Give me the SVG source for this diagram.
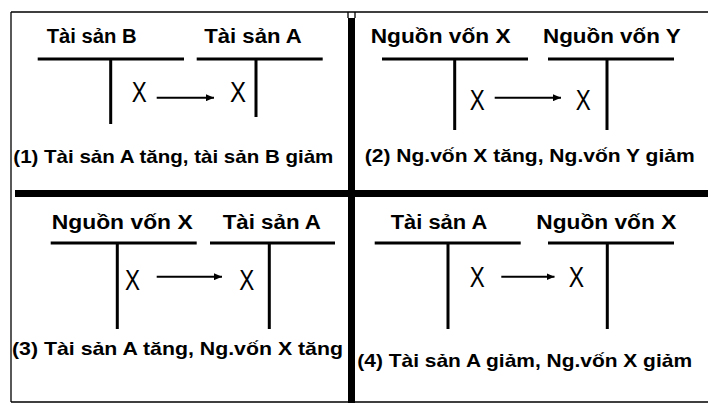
<svg xmlns="http://www.w3.org/2000/svg" width="708" height="403" viewBox="0 0 708 403">
<defs>
<style>
.frame{stroke:#000;stroke-width:1.3;fill:none}
.bar{fill:#000}
.t{stroke:#000;stroke-width:3;fill:none}
.hd{font-family:"Liberation Sans",Arial,sans-serif;font-weight:bold;font-size:19.5px;fill:#000}
.cap{font-family:"Liberation Sans",Arial,sans-serif;font-weight:bold;font-size:19px;fill:#000}
.x{font-family:"Liberation Sans",Arial,sans-serif;font-weight:normal;font-size:30px;fill:#000}
.arr{stroke:#000;stroke-width:2;fill:none;marker-end:url(#ah)}
</style>
<marker id="ah" viewBox="0 0 8 7" refX="8" refY="3.5" markerWidth="8" markerHeight="7" markerUnits="userSpaceOnUse" orient="auto">
<path d="M0,0 L8,3.5 L0,7 Z" fill="#000"/>
</marker>
</defs>
<rect width="708" height="403" fill="#fff"/>
<g id="frame">
<path class="frame" d="M11,12 H708 M11,12 V402 M11,402 H708 M348,12 V18 M355,12 V18"/>
<rect class="bar" x="348" y="18" width="7" height="385"/>
<rect class="bar" x="15" y="190" width="693" height="7"/>
</g>
<g id="panel1">
<g id="p1-taisanB">
<text class="hd" x="46.7" y="43" textLength="90" lengthAdjust="spacingAndGlyphs">Tài sản B</text>
<path class="t" d="M37.7,59 H184 M110.7,59 V124"/>
<text class="x" x="131.7" y="102" textLength="15" lengthAdjust="spacingAndGlyphs">X</text>
</g>
<g id="p1-taisanA">
<text class="hd" x="204.3" y="43" textLength="97.4" lengthAdjust="spacingAndGlyphs">Tài sản A</text>
<path class="t" d="M196.7,59 H322.7 M256,59 V117"/>
<text class="x" x="230" y="102" textLength="16" lengthAdjust="spacingAndGlyphs">X</text>
</g>
<text class="cap" x="13.3" y="163" textLength="320" lengthAdjust="spacingAndGlyphs">(1) Tài sản A tăng, tài sản B giảm</text>
</g>
<g id="panel2">
<g id="p2-nguonvonX">
<text class="hd" x="370.7" y="43" textLength="140" lengthAdjust="spacingAndGlyphs">Nguồn vốn X</text>
<path class="t" d="M382,59 H528 M454.7,59 V130"/>
<text class="x" x="469.7" y="110" textLength="15" lengthAdjust="spacingAndGlyphs">X</text>
</g>
<g id="p2-nguonvonY">
<text class="hd" x="543" y="43" textLength="137.7" lengthAdjust="spacingAndGlyphs">Nguồn vốn Y</text>
<path class="t" d="M548,59 H674 M607,59 V130"/>
<text class="x" x="575.7" y="110" textLength="15" lengthAdjust="spacingAndGlyphs">X</text>
</g>
<text class="cap" x="364.7" y="161.7" textLength="330" lengthAdjust="spacingAndGlyphs">(2) Ng.vốn X tăng, Ng.vốn Y giảm</text>
</g>
<g id="panel3">
<g id="p3-nguonvonX">
<text class="hd" x="51.7" y="229.3" textLength="141" lengthAdjust="spacingAndGlyphs">Nguồn vốn X</text>
<path class="t" d="M50.7,243 H196.7 M117.3,243 V329"/>
<text class="x" x="125" y="290" textLength="15" lengthAdjust="spacingAndGlyphs">X</text>
</g>
<g id="p3-taisanA">
<text class="hd" x="222.7" y="229.3" textLength="98.3" lengthAdjust="spacingAndGlyphs">Tài sản A</text>
<path class="t" d="M210,243 H335 M269.3,243 V329"/>
<text class="x" x="239.3" y="290" textLength="15" lengthAdjust="spacingAndGlyphs">X</text>
</g>
<text class="cap" x="12" y="355" textLength="331" lengthAdjust="spacingAndGlyphs">(3) Tài sản A tăng, Ng.vốn X tăng</text>
</g>
<g id="panel4">
<g id="p4-taisanA">
<text class="hd" x="390.7" y="229.3" textLength="96.6" lengthAdjust="spacingAndGlyphs">Tài sản A</text>
<path class="t" d="M374.7,243 H520.7 M448,243 V329"/>
<text class="x" x="469.7" y="287.3" textLength="15" lengthAdjust="spacingAndGlyphs">X</text>
</g>
<g id="p4-nguonvonX">
<text class="hd" x="536.3" y="229.3" textLength="140" lengthAdjust="spacingAndGlyphs">Nguồn vốn X</text>
<path class="t" d="M548,243 H674 M607.3,243 V329"/>
<text class="x" x="568.7" y="287.3" textLength="15.3" lengthAdjust="spacingAndGlyphs">X</text>
</g>
<text class="cap" x="357.3" y="366.7" textLength="334.7" lengthAdjust="spacingAndGlyphs">(4) Tài sản A giảm, Ng.vốn X giảm</text>
</g>
<g id="connectors">
<line class="arr" x1="156.7" y1="97.7" x2="214" y2="97.7"/>
<line class="arr" x1="494.7" y1="97.7" x2="561" y2="97.7"/>
<line class="arr" x1="156.7" y1="276.7" x2="222" y2="276.7"/>
<line class="arr" x1="501.3" y1="276.7" x2="554.5" y2="276.7"/>
</g>
</svg>
